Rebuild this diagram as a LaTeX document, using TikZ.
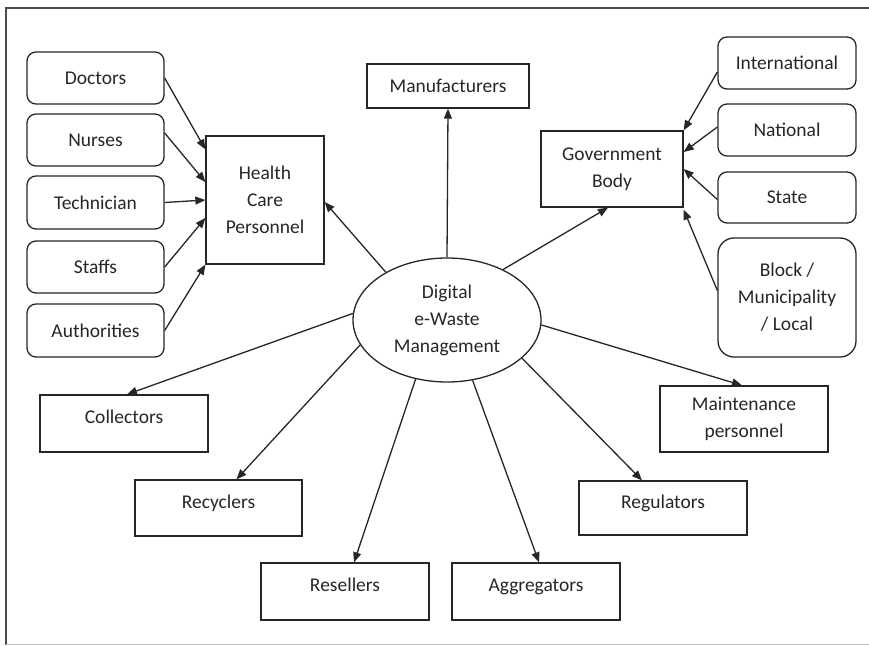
\documentclass[tikz,border=0pt]{standalone}
\usepackage{fontspec}
\setmainfont{Carlito}
\usepackage{tikz}
\usetikzlibrary{shapes.geometric,arrows.meta}

\begin{document}
\begin{tikzpicture}[x=1pt,y=-1pt,
  font=\fontsize{19.5}{27}\selectfont,
  every node/.style={inner sep=0pt,align=center,text=black!85},
  box/.style={draw=black!85,line width=1.3pt,rectangle,minimum width=168pt,minimum height=57pt},
  lowbox/.style={box,text depth=13pt},
  roundbox/.style={box,rounded corners=9pt,minimum width=137pt,minimum height=52pt},
  hub/.style={draw=black!85,line width=1.3pt,ellipse,minimum width=188pt,minimum height=124pt},
  link/.style={draw=black!85,line width=1.3pt,-{Triangle[length=10pt,width=8pt]}}]
  \useasboundingbox (0,0) rectangle (869,645);
  \draw[black!70,line width=2.2pt] (6,645) -- (6,8) -- (869,8);
  \draw[black!25,line width=1pt] (6,644) -- (869,644);

  \node[hub] (hub) at (447,320) {Digital\\e-Waste\\Management};
  %
  \node[roundbox] (doc) at (95.5,78) {Doctors};
  \node[roundbox] (nurse) at (95.5,140) {Nurses};
  \node[roundbox,minimum height=53pt] (tech) at (95.5,202.5) {Technician};
  \node[roundbox] (staff) at (95.5,267) {Staffs};
  \node[roundbox,minimum height=53pt] (auth) at (95.5,330.5) {Authorities};
  \node[box,minimum width=118pt,minimum height=128pt] (hc) at (265,200) {Health\\Care\\Personnel};
  %
  \node[box,minimum width=162pt,minimum height=44pt] (maker) at (448,86) {Manufacturers};
  %
  \node[box,minimum width=142pt,minimum height=76pt] (gov) at (612,169) {Government\\Body};
  \node[roundbox,minimum width=138pt] (intl) at (787,63) {International};
  \node[roundbox,minimum width=138pt] (nat) at (787,130) {National};
  \node[roundbox,minimum width=138pt,minimum height=51pt] (state) at (787,197.5) {State};
  \node[roundbox,rounded corners=16pt,minimum width=138pt,minimum height=119pt] (block) at (787,297.5)
    {Block /\\Municipality\\/ Local};
  %
  \node[lowbox] (coll) at (124,423.5) {Collectors};
  \node[lowbox,minimum width=167pt,minimum height=56pt] (recy) at (218.5,508) {Recyclers};
  \node[lowbox] (resl) at (345,591.5) {Resellers};
  \node[lowbox] (aggr) at (536,591.5) {Aggregators};
  \node[lowbox,minimum height=54pt] (regu) at (663,508) {Regulators};
  \node[box,minimum height=66pt] (maint) at (744,419) {Maintenance\\personnel};

  \draw[link] (doc.east) -- ([yshift=-14pt]hc.north west);
  \draw[link] ([yshift=7pt]nurse.east) -- ([yshift=18pt]hc.west);
  \draw[link] (tech.east) -- (hc.west);
  \draw[link] (staff.east) -- ([yshift=-18pt]hc.west);
  \draw[link] (auth.east) -- (hc.south west);
  %
  \draw[link] ([yshift=-9pt]intl.west) -- (gov.north east);
  \draw[link] ([yshift=3pt]nat.west) -- ([yshift=17pt]gov.east);
  \draw[link] ([yshift=-2pt]state.west) -- (gov.east);
  \draw[link] ([yshift=7pt]block.west) -- ([yshift=-2pt]gov.south east);
  %
  \draw[link] (hub.142) -- ([yshift=-2pt]hc.east);
  \draw[link] (hub.north) -- (maker.south);
  \draw[link] (hub.42) -- ([xshift=-4pt]gov.south);
  \draw[link] (hub.176) -- ([xshift=3pt]coll.north);
  \draw[link] (hub.196) -- ([xshift=18pt]recy.north);
  \draw[link] (hub.242) -- ([xshift=9pt]resl.north);
  \draw[link] (hub.293) -- ([xshift=3pt]aggr.north);
  \draw[link] (hub.333) -- ([xshift=-21pt]regu.north);
  \draw[link] (hub.357) -- ([xshift=-2pt]maint.north);
\end{tikzpicture}
\end{document}
